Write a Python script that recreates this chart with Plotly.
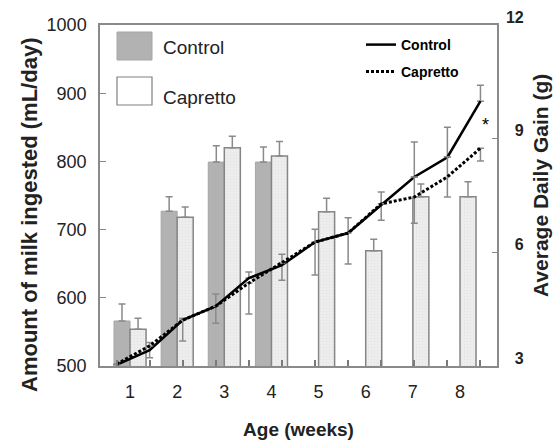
import plotly.graph_objects as go

# ---------------- data ----------------
weeks = [1, 2, 3, 4, 5, 6, 7, 8]
week_labels = ["1", "2", "3", "4", "5", "6", "7", "8"]
milk_control = [566, 727, 799, 799, None, None, None, None]
milk_control_err = [25, 21, 24, 22, 0, 0, 0, 0]
milk_capretto = [554, 718, 820, 808, 726, 669, 748, 748]
milk_capretto_err = [16, 15, 17, 21, 20, 17, 19, 22]

adg_points = list(range(12))
adg_control = [3.03, 3.42, 4.21, 4.58, 5.32, 5.66, 6.27, 6.51, 7.25, 7.99, 8.51, 9.99]
adg_control_up = [0.0, 0.2, 0.05, 0.32, 0.16, 0.29, 0.34, 0.40, 0.34, 0.92, 0.79, 0.42]
adg_control_dn = [0.0, 0.2, 0.0, 0.45, 0.0, 0.40, 0.87, 0.82, 0.40, 0.0, 0.0, 0.0]
adg_capretto = [3.05, 3.53, 4.21, 4.58, 5.19, 5.72, 6.27, 6.51, 7.28, 7.46, 7.99, 8.75]
adg_capretto_up = [0.0, 0.0, 0.0, 0.0, 0.0, 0.0, 0.0, 0.0, 0.0, 0.53, 0.53, 0.0]
adg_capretto_dn = [0.0, 0.0, 0.55, 0.0, 0.82, 0.0, 0.0, 0.0, 0.0, 0.69, 0.53, 0.34]

left_ticks = [500, 600, 700, 800, 900, 1000]
right_ticks = [3, 6, 9, 12]
right_tick_text = ["\u20073", "\u20076", "\u20079", "12"]

# ---------------- layout geometry ----------------
W, H = 554, 446
L, R, T, B = 100, 497, 25, 366


def px(x):
    return (x - L) / (R - L)


def py(y):
    return (B - y) / (B - T)


GRAY = "#8a8a8a"
FONT = "Liberation Sans, Arial, sans-serif"

fig = go.Figure()

fig.add_trace(go.Bar(
    x=weeks, y=milk_control, name="Control",
    marker=dict(color="#b2b2b2", line=dict(color="#a6a6a6", width=1)),
    error_y=dict(type="data", array=milk_control_err, arrayminus=[0] * 8,
                 symmetric=False, color=GRAY, thickness=1.5, width=3.5),
    showlegend=False,
))
fig.add_trace(go.Bar(
    x=weeks, y=milk_capretto, name="Capretto",
    marker=dict(color="#ebebeb", line=dict(color="#858585", width=1.5),
                pattern=dict(shape=".", size=3, solidity=0.15,
                             fgcolor="#d6d6d6", bgcolor="#ededed")),
    error_y=dict(type="data", array=milk_capretto_err, arrayminus=[0] * 8,
                 symmetric=False, color=GRAY, thickness=1.5, width=3.5),
    showlegend=False,
))

fig.add_trace(go.Scatter(
    x=adg_points, y=adg_control, name="Control", mode="lines",
    xaxis="x2", yaxis="y2",
    line=dict(color="black", width=2.5),
    error_y=dict(type="data", array=adg_control_up, arrayminus=adg_control_dn,
                 symmetric=False, color=GRAY, thickness=1.5, width=3.5),
    legend="legend",
))
fig.add_trace(go.Scatter(
    x=adg_points, y=adg_capretto, name="Capretto", mode="lines",
    xaxis="x2", yaxis="y2",
    line=dict(color="black", width=3, dash="3px,2px"),
    error_y=dict(type="data", array=adg_capretto_up, arrayminus=adg_capretto_dn,
                 symmetric=False, color=GRAY, thickness=1.5, width=3.5),
    legend="legend2",
))

shapes = [
    dict(type="rect", xref="paper", yref="paper",
         x0=px(117), x1=px(152), y0=py(60), y1=py(32),
         fillcolor="#b2b2b2", line=dict(color="#a6a6a6", width=1)),
    dict(type="rect", xref="paper", yref="paper",
         x0=px(117), x1=px(152), y0=py(105), y1=py(77),
         fillcolor="white", line=dict(color="#808080", width=1.2)),
]
annotations = [
    dict(text="Control", xref="paper", yref="paper", x=px(161), y=py(47),
         xanchor="left", yanchor="middle", showarrow=False,
         font=dict(family=FONT, size=19, color="#222")),
    dict(text="Capretto", xref="paper", yref="paper", x=px(161), y=py(97),
         xanchor="left", yanchor="middle", showarrow=False,
         font=dict(family=FONT, size=19, color="#222")),
    dict(text="*", xref="x2", yref="y2", x=11.15, y=9.35,
         xanchor="center", yanchor="middle", showarrow=False,
         font=dict(family=FONT, size=18, color="black")),
    # axis titles
    dict(text="Amount of milk ingested (mL/day)", xref="paper", yref="paper",
         x=px(30), y=py(215), xanchor="center", yanchor="middle",
         textangle=-90, showarrow=False,
         font=dict(family=FONT, size=22, color="#222", weight="bold")),
    dict(text="Average Daily Gain (g)", xref="paper", yref="paper",
         x=px(540), y=py(186), xanchor="center", yanchor="middle",
         textangle=-90, showarrow=False,
         font=dict(family=FONT, size=21, color="#222", weight="bold")),
]

legend_common = dict(
    xanchor="left", yanchor="middle", bgcolor="rgba(0,0,0,0)",
    borderwidth=0, itemwidth=30,
    font=dict(family=FONT, size=14, color="black", weight="bold"),
)

fig.update_layout(
    width=W, height=H,
    margin=dict(l=L, r=W - R, t=T, b=H - B, autoexpand=False),
    paper_bgcolor="white", plot_bgcolor="rgba(0,0,0,0)",
    barmode="group", bargap=0.32, bargroupgap=0,
    font=dict(family=FONT, color="#222"),
    shapes=shapes, annotations=annotations,
    legend=dict(x=px(361), y=py(45), **legend_common),
    legend2=dict(x=px(361), y=py(72), **legend_common),
    xaxis=dict(
        range=[0.363, 8.785], tickmode="array", tickvals=weeks, ticktext=week_labels,
        ticks="", showline=True, linecolor=GRAY, linewidth=1.5, mirror=True,
        showgrid=False, zeroline=False, ticklabelstandoff=9, automargin=False,
        tickfont=dict(family=FONT, size=18, color="#222"),
        title=dict(text="Age (weeks)", standoff=21,
                   font=dict(family=FONT, size=19, color="#222", weight="bold")),
    ),
    xaxis2=dict(
        overlaying="x", anchor="y2", side="bottom", range=[-0.5, 11.5],
        tickmode="array", tickvals=adg_points, showticklabels=True,
        ticktext=[""] * 12,
        ticks="inside", ticklen=6, tickcolor="#7a7a7a", tickwidth=1.5,
        showline=True, linecolor=GRAY, linewidth=1.5,
        showgrid=False, zeroline=False, layer="above traces",
        automargin=False,
    ),
    yaxis=dict(
        range=[500, 1000], tickmode="array", tickvals=left_ticks,
        ticks="inside", ticklen=6, tickcolor=GRAY, tickwidth=1.2,
        showline=True, linecolor=GRAY, linewidth=1.5, mirror=True,
        showgrid=False, zeroline=False, ticklabelstandoff=8, automargin=False,
        tickfont=dict(family=FONT, size=18, color="#222"),
    ),
    yaxis2=dict(
        overlaying="y", side="right", anchor="x2", range=[3, 12],
        tickmode="array", tickvals=right_ticks, ticktext=right_tick_text,
        ticks="inside", ticklen=5, tickcolor=GRAY, tickwidth=1.2,
        showline=True, linecolor=GRAY, linewidth=1.5, automargin=False,
        showgrid=False, zeroline=False, ticklabelshift=-8, ticklabelstandoff=4,
        tickfont=dict(family=FONT, size=16, color="#222", weight="bold"),
    ),
)

fig.write_html("out.html")
